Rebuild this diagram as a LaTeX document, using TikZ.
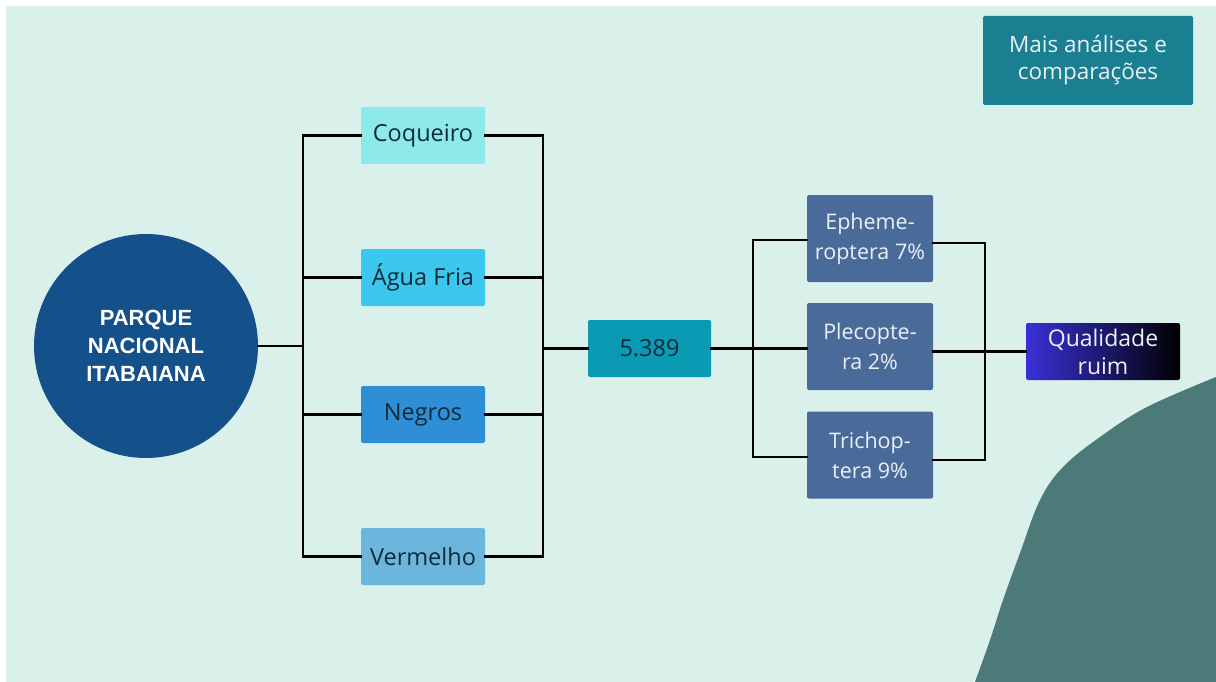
\documentclass[tikz,border=0pt]{standalone}
\usepackage{fontspec}
\setmainfont{Open Sans}
\newfontfamily\headfont{Liberation Sans}
\definecolor{bgmint}{HTML}{DAF0EA}
\definecolor{circblue}{HTML}{14508A}
\definecolor{coqcol}{HTML}{8EE9E9}
\definecolor{aguacol}{HTML}{3CC8EE}
\definecolor{negcol}{HTML}{2E8FD6}
\definecolor{vermcol}{HTML}{6CB6DE}
\definecolor{valcol}{HTML}{0A9AB3}
\definecolor{inscol}{HTML}{4A6A9A}
\definecolor{maiscol}{HTML}{1A7F90}
\definecolor{blobcol}{HTML}{4B7A78}
\definecolor{qualblue}{HTML}{3A30D8}
\definecolor{darktext}{HTML}{0D2B3A}
\definecolor{lighttext}{HTML}{E8F2F6}
\begin{document}
\begin{tikzpicture}[x=1pt,y=-1pt,
  wire/.style={line width=2.6pt,black,line cap=rect},
  rivbox/.style={rectangle,rounded corners=2pt,minimum width=124pt,minimum height=57pt,
    inner sep=0pt,text=darktext,font=\fontsize{23.5}{28}\selectfont},
  insbox/.style={rectangle,rounded corners=2pt,fill=inscol,minimum width=126pt,minimum height=87pt,
    inner sep=0pt,align=center,text=lighttext,font=\fontsize{21.5}{30}\selectfont}]
\useasboundingbox (0,0) rectangle (1216,682);
\fill[white] (0,0) rectangle (1216,682);
\fill[bgmint] (6,6) rectangle (1216,682);
% decorative corner shape
\fill[blobcol] plot[smooth,tension=0.6] coordinates {(975,682) (990,640) (1003,600) (1020,553) (1040,500) (1063,467) (1100,437) (1147,407) (1216,377)} -- (1216,682) -- cycle;

% nodes
\node[circle,fill=circblue,minimum size=224pt,inner sep=0pt,align=center,text=white,
  font=\headfont\bfseries\fontsize{22}{28}\selectfont] (park) at (146,346) {PARQUE\\NACIONAL\\ITABAIANA};
\node[rivbox,fill=coqcol] (coq) at (423,135.5) {Coqueiro};
\node[rivbox,fill=aguacol] (agua) at (423,277.5) {Água Fria};
\node[rivbox,fill=negcol] (neg) at (423,414.5) {Negros};
\node[rivbox,fill=vermcol] (verm) at (423,556.5) {Vermelho};
\node[rivbox,fill=valcol,minimum width=123pt] (val) at (649.5,348.5) {5.389};
\node[insbox] (eph) at (870,238.5) {Epheme-\\roptera 7\%};
\node[insbox] (ple) at (870,346.5) {Plecopte-\\ra 2\%};
\node[insbox] (tri) at (870,455) {Trichop-\\tera 9\%};
\node[rectangle,rounded corners=2pt,left color=qualblue,right color=black,minimum width=154pt,
  minimum height=57pt,inner sep=0pt,align=center,text=lighttext,
  font=\fontsize{23}{28}\selectfont] (qual) at (1103,351.5) {Qualidade\\ruim};
\node[rectangle,rounded corners=2pt,fill=maiscol,minimum width=210pt,minimum height=89pt,
  inner sep=0pt,align=center,text=lighttext,font=\fontsize{22.5}{27}\selectfont] (mais) at (1088,60.5) {Mais análises e\\comparações};

% bus coordinates
\coordinate (busL) at (303,346);
\coordinate (busLtop) at (303,135.5);
\coordinate (busLbot) at (303,556.5);
\coordinate (busR) at (543,348.5);
\coordinate (busRtop) at (543,135.5);
\coordinate (busRbot) at (543,556.5);
\coordinate (busI) at (753,348.5);
\coordinate (busItop) at (753,240);
\coordinate (busIbot) at (753,457);
\coordinate (busO) at (985,348.5);
\coordinate (busOtop) at (985,243);
\coordinate (busObot) at (985,460);

% connectors
\draw[wire] (park.east) -- (busL);
\draw[wire] (busLtop) -- (busLbot);
\foreach \n in {coq,agua,neg,verm}{
  \draw[wire] (\n.west -| busL) -- (\n.west);
  \draw[wire] (\n.east) -- (\n.east -| busR);
}
\draw[wire] (busRtop) -- (busRbot);
\draw[wire] (busR) -- (val.west);
\draw[wire] (val.east) -- (busI);
\draw[wire] (busItop) -- (busIbot);
\draw[wire] (busItop) -- (busItop -| eph.west);
\draw[wire] (busI) -- (busI -| ple.west);
\draw[wire] (busIbot) -- (busIbot -| tri.west);
\draw[wire] (busOtop) -- (busObot);
\draw[wire] (busOtop -| eph.east) -- (busOtop);
\draw[wire] (busObot -| tri.east) -- (busObot);
\draw[wire] (ple.east |- qual.west) -- (qual.west);
\end{tikzpicture}
\end{document}
